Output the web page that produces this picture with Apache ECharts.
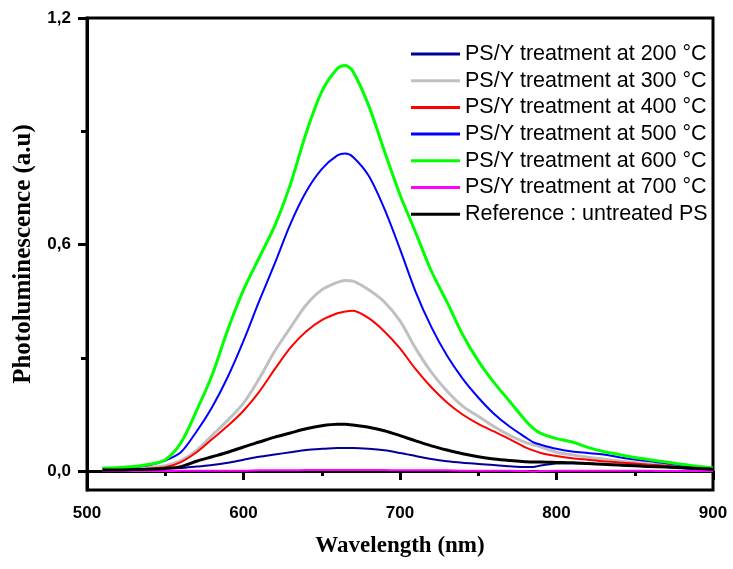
<!DOCTYPE html>
<html>
<head>
<meta charset="utf-8">
<script src="https://cdn.jsdelivr.net/npm/echarts@6/dist/echarts.min.js"></script>
<style>html,body{margin:0;padding:0;background:#fff}#c{width:733px;height:569px}</style>
</head>
<body>
<div id="c"></div>
<script>
const wavelengths = [510,520,530,540,550,560,570,580,590,600,610,620,630,640,650,660,665,670,680,690,700,710,720,730,740,750,760,770,780,785,790,800,810,820,830,840,850,860,870,880,890,900];
const t200 = [.005,.005,.005,.006,.007,.008,.012,.016,.022,.030,.038,.044,.050,.056,.059,.061,.061,.061,.059,.055,.048,.040,.032,.026,.022,.019,.016,.013,.011,.011,.015,.020,.021,.020,.018,.016,.014,.012,.011,.008,.005,.003];
const t300 = [.004,.005,.007,.010,.014,.028,.055,.095,.135,.180,.245,.318,.380,.440,.480,.500,.505,.503,.480,.448,.398,.325,.262,.212,.172,.145,.118,.095,.076,.070,.064,.050,.043,.037,.032,.027,.023,.019,.015,.011,.008,.005];
const t400 = [.003,.004,.005,.007,.010,.024,.050,.085,.120,.160,.210,.270,.327,.370,.400,.418,.423,.425,.405,.370,.325,.270,.222,.182,.150,.125,.105,.085,.063,.055,.048,.040,.034,.030,.026,.023,.020,.017,.014,.010,.007,.004];
const t500 = [.008,.009,.011,.016,.028,.050,.105,.170,.250,.345,.450,.550,.655,.740,.800,.836,.841,.832,.782,.695,.588,.475,.382,.306,.245,.195,.152,.118,.090,.077,.070,.059,.052,.048,.044,.037,.031,.026,.021,.015,.010,.005];
const t600 = [.008,.009,.012,.018,.030,.075,.160,.255,.375,.480,.565,.650,.760,.895,1.005,1.066,1.074,1.058,.968,.848,.732,.632,.530,.448,.362,.292,.235,.185,.135,.114,.100,.086,.077,.063,.052,.044,.036,.030,.024,.018,.013,.008];
const t700 = [.000,.000,.000,.000,.000,.001,.001,.001,.001,.001,.002,.002,.002,.003,.003,.003,.003,.003,.003,.003,.002,.002,.002,.002,.001,.001,.001,.001,.000,-.001,.000,.001,.001,.001,.001,.001,.001,.001,.000,.000,.000,.000];
const untreated = [.003,.003,.004,.005,.007,.012,.026,.038,.050,.064,.077,.090,.101,.112,.120,.124,.124,.122,.116,.107,.094,.080,.067,.056,.046,.038,.032,.028,.025,.024,.024,.023,.022,.020,.018,.016,.014,.012,.011,.009,.007,.005];
const seriesNames = ['PS/Y treatment at 200 °C','PS/Y treatment at 300 °C','PS/Y treatment at 400 °C','PS/Y treatment at 500 °C','PS/Y treatment at 600 °C','PS/Y treatment at 700 °C','Reference : untreated PS'];
const xTicks = [500,600,700,800,900];
const yMajorTicks = [0,0.6,1.2];
const yMinorTicks = [0.3,0.9];

const values = [t200,t300,t400,t500,t600,t700,untreated];
const colors = ['#000099','#c0c0c0','#ff0000','#0000ff','#00ff00','#ff00ff','#000000'];
const widths = [2,3,2,2,3,2,3];

const chart = echarts.init(document.getElementById('c'));
chart.setOption({
  animation:false,
  backgroundColor:'#fff',
  grid:{left:87,right:20,top:18,bottom:79,show:true,borderColor:'#000',borderWidth:3,backgroundColor:'transparent'},
  legend:{
    orient:'vertical',left:406,top:38,icon:'rect',itemWidth:49,itemHeight:3,itemGap:4.7,
    textStyle:{fontFamily:'Liberation Sans, Arial',fontSize:21.5,color:'#000',lineHeight:21},
    data:seriesNames
  },
  xAxis:{
    type:'value',min:xTicks[0],max:xTicks[xTicks.length-1],interval:100,
    name:'Wavelength (nm)',nameLocation:'middle',nameGap:45,
    nameTextStyle:{fontFamily:'Liberation Serif, Times New Roman',fontWeight:'bold',fontSize:23,color:'#000'},
    axisLine:{lineStyle:{color:'#000',width:3}},
    axisTick:{inside:false,length:9,lineStyle:{color:'#000',width:3}},
    minorTick:{show:true,splitNumber:2,length:5,lineStyle:{color:'#000',width:3}},
    axisLabel:{margin:15,fontFamily:'Liberation Sans, Arial',fontWeight:'bold',fontSize:17,color:'#000'},
    splitLine:{show:false}
  },
  yAxis:[{
    type:'value',min:-0.05,max:1.2,
    name:'Photoluminescence (a.u)',nameLocation:'middle',nameGap:49,nameRotate:90,
    nameTextStyle:{fontFamily:'Liberation Serif, Times New Roman',fontWeight:'bold',fontSize:25,color:'#000'},
    axisLine:{lineStyle:{color:'#000',width:3}},
    axisTick:{customValues:yMajorTicks,length:9,lineStyle:{color:'#000',width:3}},
    axisLabel:{customValues:yMajorTicks,margin:16,fontFamily:'Liberation Sans, Arial',fontWeight:'bold',fontSize:17,color:'#000',
      formatter:v=>v.toFixed(1).replace('.',',')},
    splitLine:{show:false}
  },{
    type:'value',min:-0.05,max:1.2,position:'left',
    axisLine:{show:false},
    axisTick:{customValues:yMinorTicks,length:6,lineStyle:{color:'#000',width:3}},
    axisLabel:{show:false},splitLine:{show:false}
  }],
  series:seriesNames.map((n,i)=>({
    name:n,type:'line',symbol:'none',showSymbol:false,smooth:0.3,
    color:colors[i],
    lineStyle:{color:colors[i],width:widths[i]},
    data:wavelengths.map((w,j)=>[w,values[i][j]]),
    z:(i===6?3:2)
  }))
});
</script>
</body>
</html>
